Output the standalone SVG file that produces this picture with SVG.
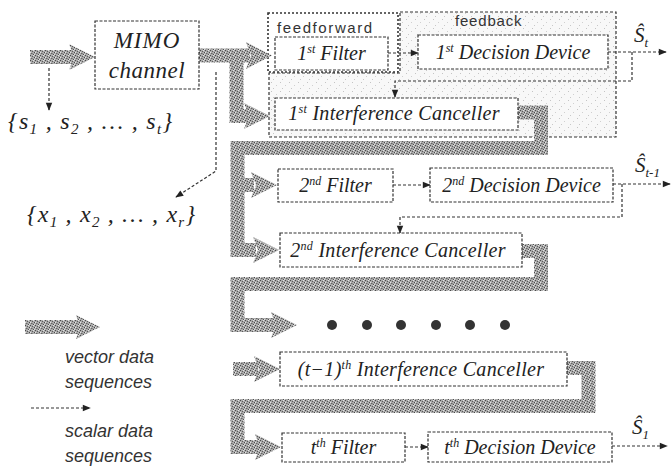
<svg xmlns="http://www.w3.org/2000/svg" width="672" height="466" viewBox="0 0 672 466">
  <defs>
    <!-- grainy halftone used for the vector (thick) data paths -->
    <pattern id="grain" width="5" height="5" patternUnits="userSpaceOnUse">
      <rect width="5" height="5" fill="#ababab"/>
      <rect x="0" y="0" width="1" height="1" fill="#4a4a4a"/>
      <rect x="2" y="1" width="1" height="1" fill="#5c5c5c"/>
      <rect x="4" y="2" width="1" height="1" fill="#474747"/>
      <rect x="1" y="3" width="1" height="1" fill="#666"/>
      <rect x="3" y="4" width="1" height="1" fill="#525252"/>
      <rect x="3" y="0" width="1" height="1" fill="#e2e2e2"/>
      <rect x="0" y="2" width="1" height="1" fill="#e6e6e6"/>
      <rect x="4" y="4" width="1" height="1" fill="#e0e0e0"/>
      <rect x="2" y="3" width="1" height="1" fill="#8a8a8a"/>
    </pattern>
    <!-- light speckle for the feedback region -->
    <pattern id="speckle" width="9" height="9" patternUnits="userSpaceOnUse">
      <rect width="9" height="9" fill="#f8f8f8"/>
      <rect x="1" y="1" width="1" height="1" fill="#c4c4c4"/>
      <rect x="6" y="4" width="1" height="1" fill="#d0d0d0"/>
      <rect x="3" y="7" width="1" height="1" fill="#c8c8c8"/>
    </pattern>
    <marker id="ah" viewBox="0 0 10 10" refX="9" refY="5" markerWidth="9" markerHeight="8" markerUnits="userSpaceOnUse" orient="auto">
      <path d="M0,1 L10,5 L0,9 Z" fill="#222"/>
    </marker>
  </defs>
  <style>
    .box { fill: #fff; stroke: #333; stroke-width: 1.2; stroke-dasharray: 3 1.5; }
    .band { fill: none; stroke: url(#grain); stroke-width: 14; stroke-linejoin: miter; }
    .head { fill: url(#grain); }
    .scalar { fill: none; stroke: #333; stroke-width: 1.2; stroke-dasharray: 3 2; }
    .lbl { font-family: "Liberation Serif", "Times New Roman", serif; font-style: italic; font-size: 20px; fill: #222; }
    .math { font-family: "Liberation Serif", "Times New Roman", serif; font-style: italic; fill: #222; }
    .sans { font-family: "Liberation Sans", Arial, sans-serif; font-style: italic; font-size: 18px; fill: #333; }
    .tag { font-family: "Liberation Sans", Arial, sans-serif; font-size: 15px; fill: #333; }
  </style>

  <rect width="672" height="466" fill="#fff"/>

  <!-- feedback region and feedforward frame -->
  <g id="feedback-region">
    <polygon points="400,12 616,12 616,137 269,137 269,73 400,73" fill="url(#speckle)" stroke="#333" stroke-width="1.2" stroke-dasharray="3 2"/>
    <text class="tag" x="455" y="26" letter-spacing="0.8">feedback</text>
  </g>
  <g id="feedforward-region">
    <rect x="268" y="13" width="130" height="59" fill="#fff" stroke="#333" stroke-width="1.6" stroke-dasharray="2 2"/>
    <text class="tag" x="277" y="33" letter-spacing="1.6">feedforward</text>
  </g>

  <!-- vector data paths -->
  <g id="connectors">
    <path class="band" d="M30,57 H74"/>
    <polygon class="head" points="69,44 95,57 69,70 74,57"/>

    <path class="band" d="M199,55.5 H250 M236.5,48.5 V116 H250"/>
    <polygon class="head" points="246,42 272,55.5 246,69 251,55.5"/>
    <polygon class="head" points="244,103 270,116 244,129 249,116"/>

    <path class="band" d="M518,112.5 H541 V148 H237.5 V250 H256 M237.5,185 H254"/>
    <polygon class="head" points="251,172 277,185 251,198 256,185"/>
    <polygon class="head" points="253,237 279,250 253,263 258,250"/>

    <path class="band" d="M522,251 H541 V284 H237.5 V325 H276"/>
    <polygon class="head" points="271,312 297,325 271,338 276,325"/>

    <path class="band" d="M233,369 H258"/>
    <polygon class="head" points="254,356 280,369 254,382 259,369"/>

    <path class="band" d="M567,368 H588.5 V406 H237.5 V447 H260"/>
    <polygon class="head" points="255,434 281,447 255,460 260,447"/>

    <!-- scalar data paths -->
    <path class="scalar" d="M49,68 V110" marker-end="url(#ah)"/>
    <path class="scalar" d="M216,72 V171 L176,197" marker-end="url(#ah)"/>

    <path class="scalar" d="M388,53 H418" marker-end="url(#ah)"/>
    <path class="scalar" d="M608,52 H666" marker-end="url(#ah)"/>
    <path class="scalar" d="M632,52 V81 H395 V97" marker-end="url(#ah)"/>

    <path class="scalar" d="M393,185 H430" marker-end="url(#ah)"/>
    <path class="scalar" d="M613,184 H670" marker-end="url(#ah)"/>
    <path class="scalar" d="M622,184 V217 H400 V233" marker-end="url(#ah)"/>

    <path class="scalar" d="M405,447 H428" marker-end="url(#ah)"/>
    <path class="scalar" d="M612,446 H667" marker-end="url(#ah)"/>
  </g>

  <!-- nodes -->
  <g id="mimo">
    <rect class="box" x="95" y="21" width="104" height="68"/>
    <text class="math" font-size="23" x="147" y="48" text-anchor="middle" letter-spacing="1">MIMO</text>
    <text class="math" font-size="23" x="147" y="78" text-anchor="middle" letter-spacing="0.5">channel</text>
  </g>

  <g id="filter-1">
    <rect class="box" x="275" y="37" width="113" height="33"/>
    <text class="lbl" x="331.5" y="60" text-anchor="middle">1<tspan dy="-7" font-size="12">st</tspan><tspan dy="7"> Filter</tspan></text>
  </g>
  <g id="decision-1">
    <rect class="box" x="418" y="35" width="190" height="34"/>
    <text class="lbl" x="513" y="59" text-anchor="middle">1<tspan dy="-7" font-size="12">st</tspan><tspan dy="7">  Decision Device</tspan></text>
  </g>
  <g id="canceller-1">
    <rect class="box" x="275" y="98" width="243" height="32"/>
    <text class="lbl" x="394" y="120" text-anchor="middle" letter-spacing="0.3">1<tspan dy="-7" font-size="12">st</tspan><tspan dy="7">  Interference Canceller</tspan></text>
  </g>

  <g id="filter-2">
    <rect class="box" x="278" y="169" width="115" height="33"/>
    <text class="lbl" x="335.5" y="192" text-anchor="middle">2<tspan dy="-7" font-size="12">nd</tspan><tspan dy="7"> Filter</tspan></text>
  </g>
  <g id="decision-2">
    <rect class="box" x="430" y="168" width="183" height="34"/>
    <text class="lbl" x="521.5" y="192" text-anchor="middle">2<tspan dy="-7" font-size="12">nd</tspan><tspan dy="7"> Decision Device</tspan></text>
  </g>
  <g id="canceller-2">
    <rect class="box" x="280" y="233" width="242" height="34"/>
    <text class="lbl" x="398" y="257" text-anchor="middle" letter-spacing="0.3">2<tspan dy="-7" font-size="12">nd</tspan><tspan dy="7"> Interference Canceller</tspan></text>
  </g>

  <g id="ellipsis">
    <circle cx="332" cy="325" r="5" fill="#333"/>
    <circle cx="367" cy="325" r="5" fill="#333"/>
    <circle cx="401" cy="325" r="5" fill="#333"/>
    <circle cx="436" cy="325" r="5" fill="#333"/>
    <circle cx="470" cy="325" r="5" fill="#333"/>
    <circle cx="505" cy="325" r="5" fill="#333"/>
  </g>

  <g id="canceller-t1">
    <rect class="box" x="280" y="352" width="287" height="34"/>
    <text class="lbl" x="421" y="376" text-anchor="middle" letter-spacing="0.3">(t−1)<tspan dy="-7" font-size="12">th</tspan><tspan dy="7"> Interference Canceller</tspan></text>
  </g>

  <g id="filter-t">
    <rect class="box" x="282" y="433" width="123" height="29"/>
    <text class="lbl" x="343.5" y="454" text-anchor="middle">t<tspan dy="-7" font-size="12">th</tspan><tspan dy="7"> Filter</tspan></text>
  </g>
  <g id="decision-t">
    <rect class="box" x="428" y="432" width="184" height="30"/>
    <text class="lbl" x="520" y="454" text-anchor="middle">t<tspan dy="-7" font-size="12">th</tspan><tspan dy="7"> Decision Device</tspan></text>
  </g>

  <!-- estimated symbol outputs -->
  <g id="outputs">
    <text class="math" font-size="21" x="634" y="42">Ŝ<tspan dy="5" font-size="13">t</tspan></text>
    <text class="math" font-size="21" x="635" y="172">Ŝ<tspan dy="5" font-size="13">t-1</tspan></text>
    <text class="math" font-size="21" x="632" y="434">Ŝ<tspan dy="5" font-size="13">1</tspan></text>
  </g>

  <!-- symbol sets -->
  <g id="sets">
    <text class="math" font-size="24" x="8" y="129" textLength="164" lengthAdjust="spacing">{s<tspan dy="5" font-size="15">1</tspan><tspan dy="-5"> , s</tspan><tspan dy="5" font-size="15">2</tspan><tspan dy="-5"> , … , s</tspan><tspan dy="5" font-size="15">t</tspan><tspan dy="-5">}</tspan></text>
    <text class="math" font-size="24" x="27" y="222" textLength="168" lengthAdjust="spacing">{x<tspan dy="5" font-size="15">1</tspan><tspan dy="-5"> , x</tspan><tspan dy="5" font-size="15">2</tspan><tspan dy="-5"> , … , x</tspan><tspan dy="5" font-size="15">r</tspan><tspan dy="-5">}</tspan></text>
  </g>

  <!-- legend -->
  <g id="legend">
    <path class="band" d="M25,327 H80"/>
    <polygon class="head" points="76,315 100,327 76,339 80,327"/>
    <text class="sans" x="65" y="363">vector data</text>
    <text class="sans" x="65" y="388">sequences</text>
    <path class="scalar" d="M31,408 H90" marker-end="url(#ah)"/>
    <text class="sans" x="65" y="437">scalar data</text>
    <text class="sans" x="65" y="462">sequences</text>
  </g>
</svg>
